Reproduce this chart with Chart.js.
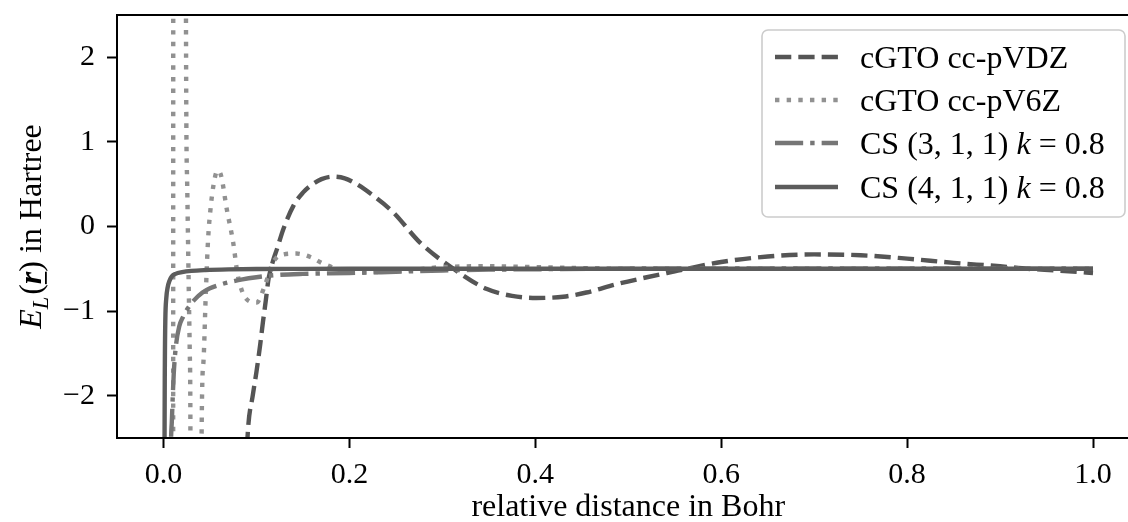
<!DOCTYPE html>
<html>
<head>
<meta charset="utf-8">
<script src="https://cdn.jsdelivr.net/npm/chart.js@4.4.1/dist/chart.umd.min.js"></script>
<style>
html, body { margin: 0; padding: 0; overflow: hidden; background: #ffffff; }
#wrap { position: relative; width: 1128px; height: 522px; overflow: hidden; }
#c { display: block; }
</style>
</head>
<body>
<div id="wrap"><canvas id="c" width="1142" height="522" style="width:1142px;height:522px"></canvas></div>
<script>
// ---------- data ----------
const seriesLabels = ['cGTO cc-pVDZ', 'cGTO cc-pV6Z', 'CS (3, 1, 1) k = 0.8', 'CS (4, 1, 1) k = 0.8'];

// cGTO cc-pVDZ (dashed)
const xVDZ = [0.084, 0.091, 0.096, 0.100, 0.104, 0.107, 0.110, 0.113, 0.1146, 0.118, 0.122, 0.129, 0.140, 0.150, 0.158, 0.170, 0.182, 0.195, 0.208, 0.225, 0.247, 0.276, 0.312, 0.348, 0.375, 0.401, 0.430, 0.455, 0.488, 0.520, 0.550, 0.563, 0.600, 0.650, 0.700, 0.750, 0.800, 0.850, 0.900, 0.930, 0.960, 1.000];
const yVDZ = [-4.0, -2.39, -2.0, -1.72, -1.40, -1.13, -0.88, -0.62, -0.54, -0.40, -0.27, -0.03, 0.25, 0.40, 0.48, 0.56, 0.59, 0.57, 0.50, 0.37, 0.17, -0.19, -0.50, -0.74, -0.82, -0.845, -0.83, -0.78, -0.68, -0.60, -0.53, -0.50, -0.42, -0.355, -0.33, -0.34, -0.38, -0.43, -0.47, -0.50, -0.52, -0.55];

// cGTO cc-pV6Z (dotted)
const xV6Z = [0.0103, 0.0107, 0.0238, 0.0242, 0.0255, 0.0270, 0.0283, 0.0290, 0.0295, 0.0400, 0.0410, 0.0430, 0.0455, 0.0480, 0.0510, 0.0540, 0.0580, 0.0620, 0.0680, 0.0750, 0.0800, 0.0895, 0.1000, 0.1090, 0.1180, 0.1290, 0.1430, 0.1580, 0.1720, 0.1930, 0.2200, 0.2600, 0.3000, 0.3500, 0.4000, 0.5000, 0.6000, 0.7000, 0.8000, 0.9000, 1.0000];
const yV6Z = [-10.0, 10.0, 8.0, 2.5, 0.5, -0.6, -1.5, -2.5, -8.0, -8.0, -2.5, -1.6, -0.8, -0.15, 0.25, 0.50, 0.66, 0.60, 0.21, -0.19, -0.58, -0.86, -0.90, -0.70, -0.42, -0.33, -0.32, -0.36, -0.44, -0.52, -0.54, -0.52, -0.48, -0.47, -0.48, -0.50, -0.50, -0.50, -0.50, -0.50, -0.50];

// CS (3,1,1) k = 0.8 (dash-dot)
const xCS3 = [0.0065, 0.0075, 0.0090, 0.0110, 0.0135, 0.0170, 0.0210, 0.0260, 0.0330, 0.0420, 0.0500, 0.0600, 0.0700, 0.0850, 0.1000, 0.1200, 0.1500, 0.2000, 0.2500, 0.3000, 0.3500, 0.4000, 0.5000, 0.6000, 0.7000, 0.8000, 0.9000, 1.0000];
const yCS3 = [-8.0, -3.2, -2.3, -1.75, -1.40, -1.18, -1.07, -0.97, -0.87, -0.78, -0.73, -0.69, -0.66, -0.625, -0.60, -0.575, -0.56, -0.55, -0.535, -0.52, -0.51, -0.505, -0.50, -0.50, -0.50, -0.50, -0.50, -0.50];

// CS (4,1,1) k = 0.8 (solid)
const xCS4 = [0.0005, 0.0010, 0.0015, 0.0020, 0.0030, 0.0045, 0.0065, 0.0090, 0.0130, 0.0200, 0.0300, 0.0450, 0.0700, 0.1000, 0.1500, 0.2000, 0.3000, 0.4000, 0.5000, 0.6000, 0.7000, 0.8000, 0.9000, 1.0000];
const yCS4 = [-8.0, -3.0, -1.6, -1.1, -0.85, -0.72, -0.64, -0.59, -0.56, -0.54, -0.525, -0.515, -0.507, -0.503, -0.501, -0.50, -0.50, -0.50, -0.50, -0.50, -0.50, -0.50, -0.50, -0.50];

// ticks and titles
const xTickValues = [0.0, 0.2, 0.4, 0.6, 0.8, 1.0];
const xTickLabels = ['0.0', '0.2', '0.4', '0.6', '0.8', '1.0'];
const yTickValues = [-2, -1, 0, 1, 2];
const yTickLabels = ['\u22122', '\u22121', '0', '1', '2'];
const xAxisTitle = 'relative distance in Bohr';
const yAxisTitleParts = [
  { t: 'E', italic: true },
  { t: 'L', italic: true, sub: true },
  { t: '(' },
  { t: 'r', italic: true, bold: true, underline: true },
  { t: ')' },
  { t: ' in Hartree' }
];

// ---------- styling ----------
const FONT = '"Liberation Serif", "Times New Roman", serif';
const FS_TICK = 30;
const FS_TEXT = 32;
const LW = 4.4;
const styles = [
  { color: '#555555', dash: [3.7 * LW, 1.6 * LW] },
  { color: '#919191', dash: [1.0 * LW, 1.65 * LW] },
  { color: '#767676', dash: [6.4 * LW, 1.6 * LW, 1.0 * LW, 1.6 * LW] },
  { color: '#5c5c5c', dash: [] }
];

function pts(xs, ys) { return xs.map((x, i) => ({ x: x, y: ys[i] })); }
const seriesX = [xVDZ, xV6Z, xCS3, xCS4];
const seriesY = [yVDZ, yV6Z, yCS3, yCS4];

const datasets = seriesLabels.map((lab, i) => ({
  label: lab,
  data: pts(seriesX[i], seriesY[i]),
  borderColor: styles[i].color,
  backgroundColor: styles[i].color,
  borderDash: styles[i].dash,
  borderWidth: LW,
  pointRadius: 0,
  fill: false,
  clip: 0,
  order: 4 - i
}));

function fontStr(o, size) {
  return (o.italic ? 'italic ' : '') + (o.bold ? 'bold ' : '') + size + 'px ' + FONT;
}

const framePlugin = {
  id: 'frame',
  afterDatasetsDraw(chart) {
    const { ctx, chartArea: a } = chart;
    ctx.save();
    ctx.strokeStyle = '#000';
    ctx.lineWidth = 2;
    ctx.lineCap = 'square';
    ctx.beginPath();
    ctx.moveTo(a.right, a.top);
    ctx.lineTo(a.left, a.top);
    ctx.lineTo(a.left, a.bottom);
    ctx.lineTo(a.right, a.bottom);
    ctx.stroke();
    ctx.restore();
  }
};

const yTitlePlugin = {
  id: 'ytitle',
  afterDraw(chart) {
    const { ctx, chartArea: a } = chart;
    const cy = (a.top + a.bottom) / 2;
    const baseX = 41;
    ctx.save();
    ctx.translate(baseX, cy);
    ctx.rotate(-Math.PI / 2);
    ctx.fillStyle = '#000';
    ctx.textBaseline = 'alphabetic';
    ctx.textAlign = 'left';
    const parts = yAxisTitleParts.map(p => {
      const size = p.sub ? FS_TEXT * 0.7 : FS_TEXT;
      ctx.font = fontStr(p, size);
      return { p, size, w: ctx.measureText(p.t).width + (p.sub ? 2 : 0) };
    });
    const total = parts.reduce((s, q) => s + q.w, 0);
    let x = -total / 2;
    parts.forEach(q => {
      ctx.font = fontStr(q.p, q.size);
      const dy = q.p.sub ? FS_TEXT * 0.22 : 0;
      ctx.fillText(q.p.t, x, dy);
      if (q.p.underline) {
        ctx.fillRect(x, 4, q.w, 1.8);
      }
      x += q.w;
    });
    ctx.restore();
  }
};

const legendPlugin = {
  id: 'boxlegend',
  afterDraw(chart) {
    const { ctx } = chart;
    const bx = 762, by = 30, bw = 363, bh = 187, r = 6;
    ctx.save();
    ctx.beginPath();
    ctx.moveTo(bx + r, by);
    ctx.arcTo(bx + bw, by, bx + bw, by + bh, r);
    ctx.arcTo(bx + bw, by + bh, bx, by + bh, r);
    ctx.arcTo(bx, by + bh, bx, by, r);
    ctx.arcTo(bx, by, bx + bw, by, r);
    ctx.closePath();
    ctx.fillStyle = 'rgba(255,255,255,0.8)';
    ctx.fill();
    ctx.strokeStyle = '#cccccc';
    ctx.lineWidth = 1.6;
    ctx.stroke();
    const rows = [57, 100, 143, 187];
    chart.data.datasets.forEach((ds, i) => {
      const y = rows[i];
      ctx.save();
      ctx.strokeStyle = ds.borderColor;
      ctx.lineWidth = ds.borderWidth;
      ctx.setLineDash(ds.borderDash || []);
      ctx.lineCap = 'butt';
      ctx.beginPath();
      ctx.moveTo(775, y);
      ctx.lineTo(838, y);
      ctx.stroke();
      ctx.restore();
      ctx.fillStyle = '#000';
      ctx.textBaseline = 'alphabetic';
      ctx.textAlign = 'left';
      const base = y + FS_TEXT * 0.33;
      const m = ds.label.match(/^(.*?)\bk\b(.*)$/);
      let x = 860;
      const segs = m ? [{ t: m[1] }, { t: 'k', italic: true }, { t: m[2] }] : [{ t: ds.label }];
      segs.forEach(s => {
        ctx.font = fontStr(s, FS_TEXT);
        ctx.fillText(s.t, x, base);
        x += ctx.measureText(s.t).width;
      });
    });
    ctx.restore();
  }
};

new Chart(document.getElementById('c'), {
  type: 'line',
  data: { datasets: datasets },
  options: {
    responsive: false,
    maintainAspectRatio: false,
    animation: false,
    devicePixelRatio: 1,
    layout: { padding: { top: 15, right: 2.5, left: 0, bottom: 0 } },
    elements: { line: { cubicInterpolationMode: 'monotone', borderCapStyle: 'butt', borderJoinStyle: 'round' }, point: { radius: 0 } },
    plugins: { legend: { display: false }, tooltip: { enabled: false }, title: { display: false } },
    scales: {
      x: {
        type: 'linear', min: -0.05, max: 1.05,
        afterBuildTicks: s => { s.ticks = xTickValues.map(v => ({ value: v })); },
        afterFit: s => { s.height = 84; s.paddingLeft = 0; s.paddingRight = 0; },
        ticks: {
          autoSkip: false, maxRotation: 0, minRotation: 0, padding: 9, color: '#000',
          font: { family: FONT, size: FS_TICK },
          callback: v => xTickLabels[xTickValues.indexOf(v)]
        },
        grid: { drawOnChartArea: false, drawTicks: true, tickLength: 10, tickWidth: 2, tickColor: '#000' },
        border: { display: false },
        title: { display: true, text: xAxisTitle, color: '#000', font: { family: FONT, size: FS_TEXT, lineHeight: 0.9 }, padding: { top: 0, bottom: 0 } }
      },
      y: {
        type: 'linear', min: -2.5, max: 2.5,
        afterBuildTicks: s => { s.ticks = yTickValues.map(v => ({ value: v })); },
        afterFit: s => { s.width = 117; s.paddingTop = 0; s.paddingBottom = 0; },
        ticks: {
          autoSkip: false, padding: 12, color: '#000',
          font: { family: FONT, size: FS_TICK },
          callback: v => yTickLabels[yTickValues.indexOf(v)]
        },
        grid: { drawOnChartArea: false, drawTicks: true, tickLength: 10, tickWidth: 2, tickColor: '#000' },
        border: { display: false },
        title: { display: false }
      }
    }
  },
  plugins: [framePlugin, yTitlePlugin, legendPlugin]
});
</script>
</body>
</html>
